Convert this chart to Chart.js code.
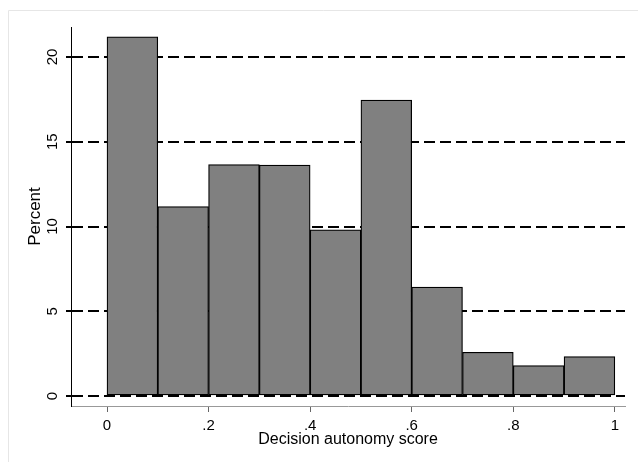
<!DOCTYPE html>
<html>
<head>
<meta charset="utf-8">
<script src="https://cdn.jsdelivr.net/npm/chart.js@4"></script>
<style>
  html, body { margin: 0; padding: 0; background: #fff; }
  #wrap { width: 638px; height: 462px; position: relative; }
</style>
</head>
<body>
<div id="wrap"><canvas id="hist"></canvas></div>
<script>
// Histogram data: bin start, bin width, percent per bin
const binStarts = [0, 0.1, 0.2, 0.3, 0.4, 0.5, 0.6, 0.7, 0.8, 0.9];
const binWidth = 0.1;
const percents = [21.19, 11.18, 13.66, 13.62, 9.80, 17.46, 6.42, 2.58, 1.79, 2.33];

// Axis ticks
const xTicks = [0, 0.2, 0.4, 0.6, 0.8, 1];
const xTickLabels = ['0', '.2', '.4', '.6', '.8', '1'];
const yTicks = [0, 5, 10, 15, 20];
const yTickLabels = ['0', '5', '10', '15', '20'];

const FONT = "'Liberation Sans', Arial, sans-serif";

// Light frame around the graph + rotated y tick labels (Stata style)
const stataPlugin = {
    id: 'stata',
    beforeDraw(chart) {
        const ctx = chart.ctx;
        ctx.save();
        ctx.strokeStyle = '#e6e6e6';
        ctx.lineWidth = 1;
        ctx.beginPath();
        ctx.moveTo(8.5, 462);
        ctx.lineTo(8.5, 10.5);
        ctx.lineTo(638, 10.5);
        ctx.stroke();
        ctx.restore();
    },
    afterDraw(chart) {
        const ctx = chart.ctx;
        const y = chart.scales.y;
        ctx.save();
        ctx.fillStyle = '#000';
        ctx.font = '15px ' + FONT;
        ctx.textAlign = 'center';
        ctx.textBaseline = 'middle';
        yTicks.forEach((v, i) => {
            const py = y.getPixelForValue(v);
            ctx.save();
            ctx.translate(53, py);
            ctx.rotate(-Math.PI / 2);
            ctx.fillText(yTickLabels[i], 0, 0);
            ctx.restore();
        });
        ctx.restore();
    }
};

const ctx = document.getElementById('hist').getContext('2d');
new Chart(ctx, {
    type: 'bar',
    data: {
        datasets: [{
            data: binStarts.map((s, i) => ({ x: s + binWidth / 2, y: percents[i] })),
            backgroundColor: '#808080',
            borderColor: '#000',
            borderWidth: 1.25,
            borderSkipped: false,
            barPercentage: 1,
            categoryPercentage: 1
        }]
    },
    options: {
        responsive: true,
        maintainAspectRatio: false,
        animation: false,
        devicePixelRatio: 1,
        layout: { padding: { top: 27, right: 13, left: 0, bottom: 0 } },
        plugins: {
            legend: { display: false },
            tooltip: { enabled: false }
        },
        scales: {
            x: {
                type: 'linear',
                offset: false,
                min: -0.0709,
                max: 1.02,
                afterFit(scale) { scale.height = 56; },
                afterBuildTicks(scale) {
                    scale.ticks = xTicks.map(v => ({ value: v }));
                },
                ticks: {
                    color: '#000',
                    font: { family: FONT, size: 15 },
                    padding: 5,
                    maxRotation: 0,
                    autoSkip: false,
                    callback: (v) => {
                        const i = xTicks.findIndex(t => Math.abs(t - v) < 1e-9);
                        return i >= 0 ? xTickLabels[i] : '';
                    }
                },
                grid: {
                    offset: false,
                    drawOnChartArea: false,
                    drawTicks: true,
                    tickLength: 6,
                    tickColor: '#666',
                    tickWidth: 1
                },
                border: { display: true, color: '#999', width: 1 },
                title: {
                    display: true,
                    text: 'Decision autonomy score',
                    color: '#000',
                    font: { family: FONT, size: 16 },
                    padding: { top: 0, bottom: 13 }
                }
            },
            y: {
                min: -0.59,
                max: 21.77,
                afterFit(scale) { scale.width = 71; },
                afterBuildTicks(scale) {
                    scale.ticks = yTicks.map(v => ({ value: v }));
                },
                ticks: { display: false },
                grid: {
                    color: '#000',
                    lineWidth: 2,
                    drawTicks: true,
                    tickLength: 5,
                    tickColor: '#000',
                    tickWidth: 2
                },
                border: { display: true, color: '#000', width: 1, dash: [11, 5] },
                title: {
                    display: true,
                    text: 'Percent',
                    color: '#000',
                    font: { family: FONT, size: 17 },
                    padding: { top: 25, bottom: 0 }
                }
            }
        }
    },
    plugins: [stataPlugin]
});
</script>
</body>
</html>
